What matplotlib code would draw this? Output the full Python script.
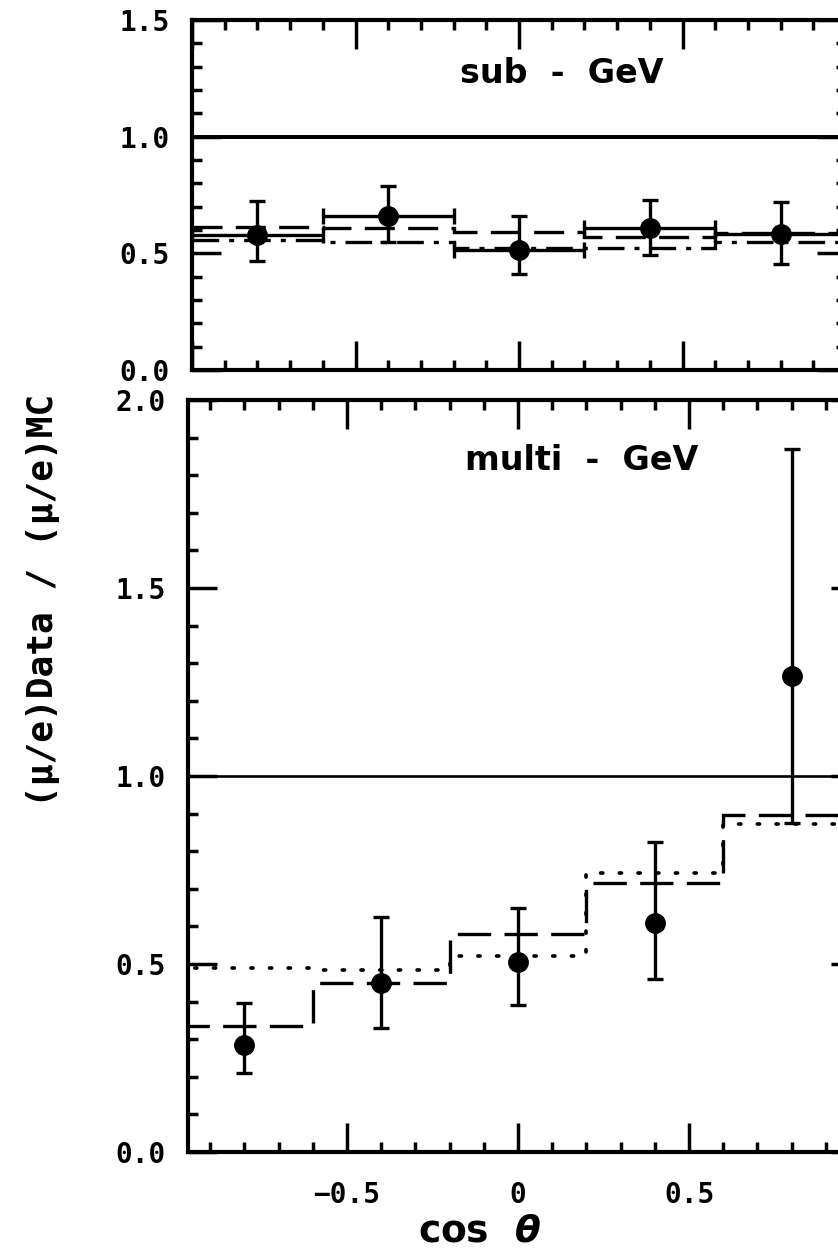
import numpy as np
import matplotlib
matplotlib.use("Agg")
import matplotlib.pyplot as plt
from matplotlib.ticker import MultipleLocator

# cos(theta) binning
edges = [-1.0, -0.6, -0.2, 0.2, 0.6, 1.0]
cos_pts = [-0.8, -0.4, 0.0, 0.4, 0.8]

# sub-GeV panel
sub_ratio = [0.58, 0.66, 0.515, 0.61, 0.585]
sub_hi = [0.725, 0.79, 0.66, 0.73, 0.72]
sub_lo = [0.468, 0.547, 0.41, 0.495, 0.455]
sub_dash = [0.615, 0.61, 0.59, 0.572, 0.588]
sub_dashdot = [0.556, 0.55, 0.522, 0.523, 0.55]

# multi-GeV panel
multi_ratio = [0.285, 0.45, 0.505, 0.61, 1.265]
multi_hi = [0.395, 0.625, 0.65, 0.825, 1.87]
multi_lo = [0.21, 0.33, 0.39, 0.46, 0.875]
multi_dash = [0.335, 0.45, 0.58, 0.715, 0.895]
multi_dot = [0.49, 0.485, 0.522, 0.742, 0.872]

W, H = 838, 1251
fig = plt.figure(figsize=(W / 100, H / 100), dpi=100)

LW = 2.4
tick_font = dict(family="DejaVu Sans Mono", weight="bold", size=20)


def px_axes(left, top, right, bottom):
    return fig.add_axes([left / W, 1 - bottom / H, (right - left) / W, (bottom - top) / H])


def style_axes(ax):
    for s in ax.spines.values():
        s.set_linewidth(3)
    ax.xaxis.set_major_locator(MultipleLocator(0.5))
    ax.xaxis.set_minor_locator(MultipleLocator(0.1))
    ax.yaxis.set_major_locator(MultipleLocator(0.5))
    ax.yaxis.set_minor_locator(MultipleLocator(0.1))
    ax.tick_params(which="both", direction="in", top=True, right=True, width=2.5)
    ax.tick_params(which="major", length=21)
    ax.tick_params(which="minor", length=7)
    ax.tick_params(axis="y", pad=16)
    ax.tick_params(axis="x", pad=21)


def data_points(ax, y, hi, lo, xerr):
    y = np.array(y)
    yerr = [y - np.array(lo), np.array(hi) - y]
    ax.errorbar(cos_pts, y, yerr=yerr, xerr=xerr, fmt="o", color="black",
                markersize=14, elinewidth=LW, capsize=6, capthick=LW, zorder=5)


# ---- top: sub-GeV ----
ax1 = px_axes(192, 20, 846, 370)
style_axes(ax1)
ax1.set_xlim(-1.0, 1.0)
ax1.set_ylim(0, 1.5)
ax1.axhline(1.0, color="black", lw=LW * 1.2)
ax1.stairs(sub_dash, edges, baseline=None, color="black", lw=LW, linestyle=(0, (9, 4)))
ax1.stairs(sub_dashdot, edges, baseline=None, color="black", lw=LW,
           linestyle=(0, (8, 3, 1.5, 3)))
data_points(ax1, sub_ratio, sub_hi, sub_lo, xerr=0.2)
ax1.set_xticklabels([])
ax1.set_yticks([0, 0.5, 1.0, 1.5])
ax1.set_yticklabels(["0.0", "0.5", "1.0", "1.5"], **tick_font)
ax1.text(-0.18, 1.23, "sub  -  GeV", fontsize=24, fontweight="bold",
         family="DejaVu Sans", ha="left", va="baseline")

# ---- bottom: multi-GeV ----
ax2 = px_axes(188, 400, 860, 1152)
style_axes(ax2)
ax2.set_xlim(-0.965, 1.0)
ax2.set_ylim(0, 2.0)
ax2.axhline(1.0, color="black", lw=LW * 0.8)
ax2.stairs(multi_dash, edges, baseline=None, color="black", lw=LW, linestyle=(0, (10, 4)))
dots = ax2.stairs(multi_dot, edges, baseline=None, color="black", lw=LW * 1.1,
                  linestyle=(0, (0.6, 4.5)))
dots.set_capstyle("round")
data_points(ax2, multi_ratio, multi_hi, multi_lo, xerr=None)
ax2.set_xticks([-0.5, 0, 0.5])
ax2.set_xticklabels(["\u22120.5", "0", "0.5"], **tick_font)
ax2.set_yticks([0, 0.5, 1.0, 1.5, 2.0])
ax2.set_yticklabels(["0.0", "0.5", "1.0", "1.5", "2.0"], **tick_font)
ax2.text(-0.155, 1.815, "multi  -  GeV", fontsize=24, fontweight="bold",
         family="DejaVu Sans", ha="left", va="baseline")

fig.text(43 / W, 1 - 600 / H, "(\u03bc/e)Data / (\u03bc/e)MC", rotation=90,
         ha="center", va="center", fontsize=26, fontweight="bold", family="DejaVu Sans Mono")
fig.text(480 / W, 1 - 1232 / H, r"cos  $\boldsymbol{\theta}$", ha="center", va="center",
         fontsize=27, fontweight="bold", family="DejaVu Sans")

fig.savefig("out.png", dpi=100)
